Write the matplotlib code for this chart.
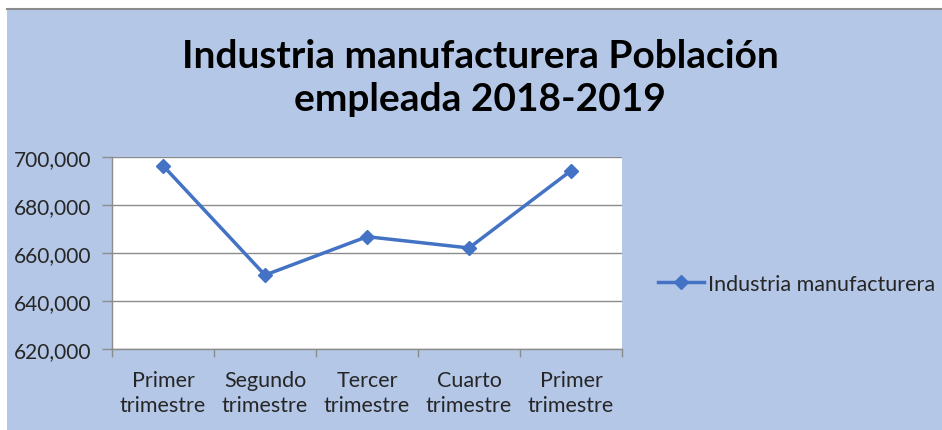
import matplotlib
matplotlib.use("Agg")
import matplotlib.pyplot as plt
from matplotlib.patches import Rectangle
from matplotlib.ticker import FuncFormatter, FixedLocator

# Población empleada en la industria manufacturera por trimestre
categories = ["Primer\ntrimestre", "Segundo\ntrimestre", "Tercer\ntrimestre",
              "Cuarto\ntrimestre", "Primer\ntrimestre"]
values = [696400, 650800, 666800, 662100, 694300]
series_name = "Industria manufacturera"
title = "Industria manufacturera Población\nempleada 2018-2019"
y_ticks = [620000, 640000, 660000, 680000, 700000]

BG = "#B4C7E7"
LINE = "#4472C4"
GRID = "#8C8C8C"
TEXT = "#262626"
FONT = ["Lato", "DejaVu Sans"]

W, H = 942, 431
fig = plt.figure(figsize=(W / 100, H / 100), dpi=100)
fig.patch.set_facecolor("white")

# chart area background with its top border
fig.patches.append(Rectangle((7 / W, 0), 1 - 7 / W, (H - 10) / H,
                             transform=fig.transFigure, facecolor=BG,
                             edgecolor="none", zorder=-5))
fig.add_artist(plt.Line2D([7 / W, 1], [(H - 10) / H, (H - 10) / H],
                          transform=fig.transFigure, color="#8C8C8C", lw=1.5,
                          zorder=-4))

left, right, top, bottom = 112, 622, 158, 350
ax = fig.add_axes([left / W, 1 - bottom / H, (right - left) / W, (bottom - top) / H])
ax.set_zorder(1)
ax.set_facecolor("white")

x = list(range(len(categories)))
ax.plot(x, values, color=LINE, lw=2.5, marker="D", markersize=7,
        label=series_name, zorder=3)

ax.set_xlim(-0.5, len(categories) - 0.5)
ax.set_ylim(y_ticks[0], y_ticks[-1])
ax.set_yticks(y_ticks)
ax.yaxis.set_major_formatter(FuncFormatter(lambda v, p: f"{int(v):,}"))
ax.grid(axis="y", color=GRID, lw=1)
ax.set_axisbelow(True)

ax.set_xticks(x)
ax.set_xticklabels(categories, fontsize=15.5, color=TEXT, family=FONT,
                   linespacing=1.3)
ax.xaxis.set_minor_locator(FixedLocator([i - 0.5 for i in range(len(categories) + 1)]))
ax.tick_params(axis="x", which="major", length=0, pad=15)
ax.tick_params(axis="x", which="minor", length=6, color=GRID, width=1)
ax.tick_params(axis="y", length=7, color=GRID, width=1, pad=8,
               labelsize=15, labelcolor=TEXT)
for lbl in ax.get_yticklabels():
    lbl.set_family(FONT)

for s in ["top", "right"]:
    ax.spines[s].set_visible(False)
for s in ["left", "bottom"]:
    ax.spines[s].set_color(GRID)
    ax.spines[s].set_linewidth(1)

fig.text(480 / W, 1 - 78 / H, title, ha="center", va="center",
         fontsize=28, fontweight="bold", color="black", family=FONT,
         linespacing=1.3)

leg = fig.legend(loc="center left", bbox_to_anchor=(639 / W, 1 - 285 / H),
                 frameon=False, handlelength=2.1, handletextpad=0.2,
                 prop={"family": FONT, "size": 15.5})
for t in leg.get_texts():
    t.set_color(TEXT)

fig.savefig("out.png", dpi=100, facecolor=fig.get_facecolor())
